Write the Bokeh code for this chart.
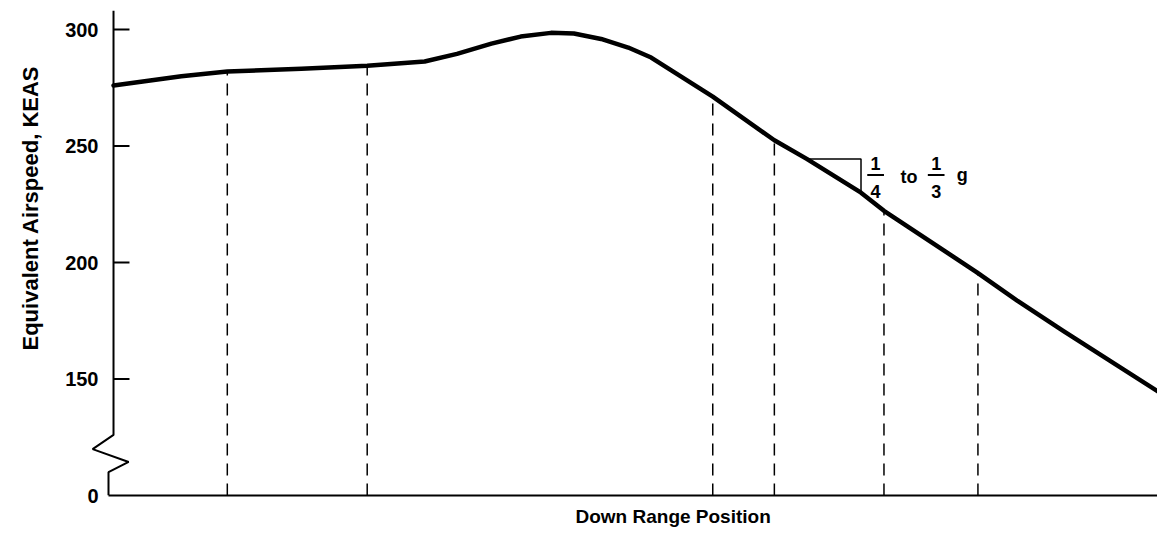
import numpy as np
from bokeh.plotting import figure
from bokeh.models import Range1d, FixedTicker, Title
from bokeh.core.properties import value
from bokeh.embed import file_html
from bokeh.resources import INLINE

# ---- data ----
position = [0.0, 6.5, 10.9, 18.0, 24.3, 29.8, 32.9, 36.2, 39.0, 41.9, 44.1, 46.7,
            49.3, 51.5, 57.4, 63.3, 66.4, 71.6, 73.8, 82.7, 86.6, 91.0, 100.0]
keas = [276.0, 280.0, 282.0, 283.2, 284.5, 286.3, 289.6, 294.0, 297.0, 298.6, 298.3, 296.0,
        292.3, 288.0, 271.2, 252.5, 244.5, 230.0, 222.2, 195.8, 183.5, 170.6, 144.8]
marker_positions = [10.9, 24.3, 57.4, 63.3, 73.8, 82.8]
slope_span = [66.4, 71.6]
y_ticks = [100, 150, 200, 250, 300]
y_tick_labels = ["0", "150", "200", "250", "300"]

FONT = "Liberation Sans"
Y0, Y1 = 100, 308.2
X0, X1 = -2.30, 100
TICK_LEN = 1.53   # inward tick length in x data units

p = figure(width=1157, height=542, x_range=Range1d(X0, X1), y_range=Range1d(Y0, Y1),
           output_backend="svg", toolbar_location=None,
           min_border_left=88, min_border_right=0, min_border_top=10, min_border_bottom=47)
p.outline_line_color = None
p.xgrid.visible = False
p.ygrid.visible = False
p.background_fill_color = "white"

# y axis: labels (ticks and line are drawn at x = 0 with the axis break)
ya = p.yaxis[0]
ya.ticker = FixedTicker(ticks=y_ticks)
ya.major_label_overrides = {t: s for t, s in zip(y_ticks, y_tick_labels)}
ya.axis_line_color = None
ya.major_tick_line_color = None
ya.major_tick_in = 0
ya.major_tick_out = 0
ya.minor_tick_line_color = None
ya.major_label_standoff = -9
ya.major_label_text_font = FONT
ya.major_label_text_font_style = "bold"
ya.major_label_text_font_size = "20px"
ya.major_label_text_color = "black"

xa = p.xaxis[0]
xa.ticker = FixedTicker(ticks=[])
xa.bounds = (-0.48, X1)
xa.axis_line_width = 2
xa.axis_line_color = "black"
xa.major_tick_line_color = None
xa.minor_tick_line_color = None

# broken y axis line with inward ticks
brk_x = [0.0, 0.0, -2.0, 1.45, -0.48, -0.48]
brk_y = [Y1, 126.0, 119.9, 114.4, 110.0, Y0]
p.line(brk_x, brk_y, line_color="black", line_width=2)
vis_ticks = y_ticks[1:]
p.segment(x0=[0.0] * len(vis_ticks), y0=vis_ticks, x1=[TICK_LEN] * len(vis_ticks), y1=vis_ticks,
          line_color="black", line_width=2)

# curve
p.line(position, keas, line_color="black", line_width=4.5, line_join="round", line_cap="round")

# dashed markers up to the curve
tops = np.interp(marker_positions, position, keas)
p.segment(x0=marker_positions, y0=[Y0] * len(marker_positions), x1=marker_positions, y1=tops,
          line_color="black", line_width=1.5, line_dash="12 8")

# slope triangle
sy = np.interp(slope_span, position, keas)
p.line([slope_span[0], slope_span[1], slope_span[1]], [sy[0], sy[0], sy[1]],
       line_color="black", line_width=1.5)

# fraction annotation  1/4 to 1/3 g
tx = [73.0, 73.0, 76.2, 78.8, 78.8, 81.3]
ty = [242.6, 230.6, 236.8, 242.6, 230.6, 237.5]
tt = ["1", "4", "to", "1", "3", "g"]
p.text(x=tx, y=ty, text=tt, text_font=value(FONT), text_font_style="bold",
       text_font_size="18px", text_align="center", text_baseline="middle", text_color="black")
p.segment(x0=[72.2, 78.0], y0=[237.6, 237.6], x1=[73.8, 79.6], y1=[237.6, 237.6],
          line_color="black", line_width=2)

# axis titles
p.add_layout(Title(text="Equivalent Airspeed, KEAS", align="left", offset=145, standoff=35,
                   vertical_align="top", text_font=FONT, text_font_style="bold",
                   text_font_size="22px", text_color="black"), "left")
p.add_layout(Title(text="Down Range Position", align="left", offset=486, standoff=16,
                   text_font=FONT, text_font_style="bold", text_font_size="19px",
                   text_color="black"), "below")

open("out.html", "w").write(file_html(p, INLINE))
